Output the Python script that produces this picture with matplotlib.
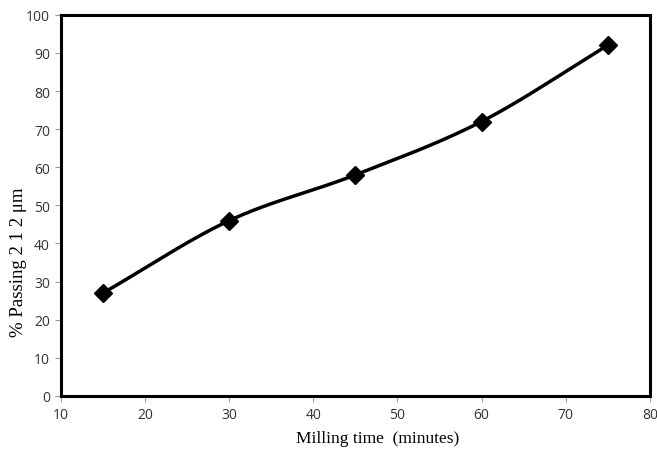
import numpy as np
import matplotlib.pyplot as plt

# dados
tempo = [15, 30, 45, 60, 75]
passante = [27, 46, 58, 72, 92]
xticks = [10, 20, 30, 40, 50, 60, 70, 80]
yticks = [0, 10, 20, 30, 40, 50, 60, 70, 80, 90, 100]


# curva suavizada (tipo Excel) via Catmull-Rom
def suavizar(x, y, n=40):
    x = np.asarray(x, float)
    y = np.asarray(y, float)
    px = np.concatenate([[2 * x[0] - x[1]], x, [2 * x[-1] - x[-2]]])
    py = np.concatenate([[2 * y[0] - y[1]], y, [2 * y[-1] - y[-2]]])
    xs, ys = [], []
    t = np.linspace(0, 1, n)
    for i in range(1, len(px) - 2):
        for p, out in ((px, xs), (py, ys)):
            p0, p1, p2, p3 = p[i - 1], p[i], p[i + 1], p[i + 2]
            out.extend(0.5 * (2 * p1 + (-p0 + p2) * t
                              + (2 * p0 - 5 * p1 + 4 * p2 - p3) * t ** 2
                              + (-p0 + 3 * p1 - 3 * p2 + p3) * t ** 3))
    return xs, ys


fig = plt.figure(figsize=(6.57, 4.52), dpi=100)
ax = fig.add_axes([0.093, 0.122, 0.896, 0.843])

sx, sy = suavizar(tempo, passante)
ax.plot(sx, sy, color='black', lw=2.5, zorder=2)
ax.plot(tempo, passante, linestyle='none', marker='D', ms=9, color='black', zorder=3)

ax.set_xlim(10, 80)
ax.set_ylim(0, 100)
ax.set_xticks(xticks)
ax.set_yticks(yticks)

for s in ax.spines.values():
    s.set_linewidth(2.2)
    s.set_color('black')

ax.tick_params(direction='out', length=4, width=0.8, color='#999999',
               labelsize=10, labelcolor='#333333', pad=4)
for lab in ax.get_xticklabels() + ax.get_yticklabels():
    lab.set_family('Open Sans')

ax.set_xlabel('Milling time  (minutes)', family='Liberation Serif', fontsize=12.5)
ax.set_ylabel('% Passing 2 1 2 μm', family='Liberation Serif', fontsize=13.5)
ax.xaxis.set_label_coords(0.537, -0.089)
ax.yaxis.set_label_coords(-0.058, 0.354)

fig.savefig('out.png', dpi=100)
